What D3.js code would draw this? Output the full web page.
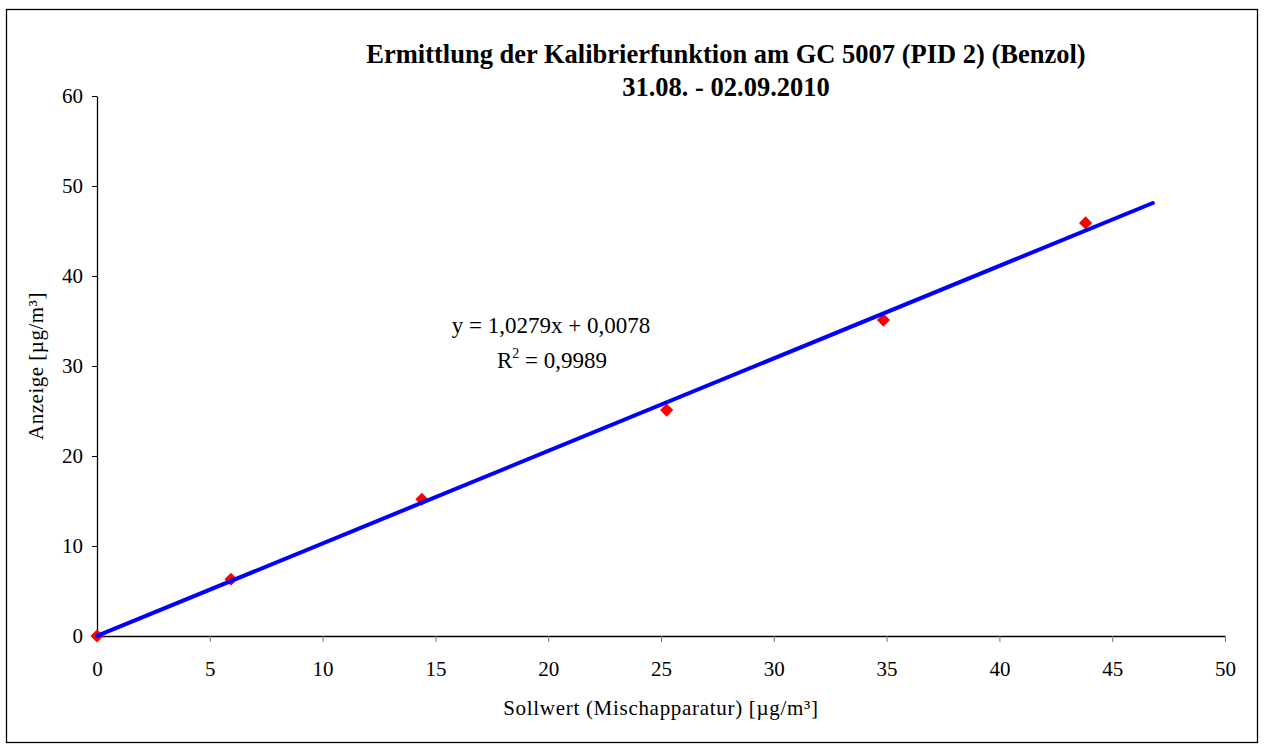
<!DOCTYPE html>
<html>
<head>
<meta charset="utf-8">
<script src="https://cdn.jsdelivr.net/npm/d3@7"></script>
<style>
  body { margin: 0; background: #fff; }
  text { font-family: "Liberation Serif", "Times New Roman", serif; }
</style>
</head>
<body>
<svg id="chart"></svg>
<script>
// measured points (Sollwert vs Anzeige)
var sollwert = [0, 5.94, 14.4, 25.25, 34.86, 43.82];
var anzeige = [0, 6.3, 15.2, 25.1, 35.1, 45.9];
// linear trend line
var slope = 1.0279;
var intercept = 0.0078;
var trendRange = [0, 46.8];
var xTicks = [0, 5, 10, 15, 20, 25, 30, 35, 40, 45, 50];
var yTicks = [0, 10, 20, 30, 40, 50, 60];

var width = 1267, height = 744;

var svg = d3.select("#chart")
  .attr("width", width)
  .attr("height", height);

// outer frame
svg.append("rect")
  .attr("x", 6.5).attr("y", 9.5)
  .attr("width", 1251).attr("height", 733)
  .attr("fill", "none")
  .attr("stroke", "#000")
  .attr("stroke-width", 1.3);

var x = d3.scaleLinear().domain([0, 50]).range([97, 1225]);
var y = d3.scaleLinear().domain([0, 60]).range([636, 96]);

var xAxis = svg.append("g")
  .attr("transform", "translate(0," + y(0) + ")")
  .call(d3.axisBottom(x).tickValues(xTicks).tickSize(6).tickSizeOuter(0).tickPadding(19));
xAxis.selectAll("text").style("font-size", "21px").attr("fill", "#000");
xAxis.select(".domain").attr("stroke", "#000").attr("stroke-width", 1.3);
xAxis.selectAll(".tick line").attr("stroke", "#777");

var yAxis = svg.append("g")
  .attr("transform", "translate(" + x(0) + ",0)")
  .call(d3.axisLeft(y).tickValues(yTicks).tickSize(5).tickSizeOuter(0).tickPadding(9));
yAxis.selectAll("text").style("font-size", "21px").attr("fill", "#000");
yAxis.select(".domain").attr("stroke", "#000").attr("stroke-width", 1.3);
yAxis.selectAll(".tick line").attr("stroke", "#000");

// markers
svg.selectAll(".pt")
  .data(d3.zip(sollwert, anzeige))
  .enter()
  .append("path")
  .attr("class", "pt")
  .attr("d", d3.symbol().type(d3.symbolDiamond2).size(110))
  .attr("transform", function (d) {
    return "translate(" + x(d[0]) + "," + y(d[1]) + ")";
  })
  .attr("fill", "#ff0000");

// trend line
var line = d3.line()
  .x(function (d) { return x(d); })
  .y(function (d) { return y(slope * d + intercept); });

svg.append("path")
  .datum(trendRange)
  .attr("d", line)
  .attr("fill", "none")
  .attr("stroke", "#0000ff")
  .attr("stroke-width", 4)
  .attr("stroke-linecap", "round");

// title
var title = svg.append("text")
  .attr("text-anchor", "middle")
  .style("font-size", "26.5px")
  .style("font-weight", "bold");
title.append("tspan").attr("x", 726).attr("y", 63)
  .text("Ermittlung der Kalibrierfunktion am GC 5007 (PID 2) (Benzol)");
title.append("tspan").attr("x", 726).attr("y", 96)
  .text("31.08. - 02.09.2010");

// equation
var eq = svg.append("text")
  .attr("text-anchor", "middle")
  .style("font-size", "23px");
eq.append("tspan").attr("x", 551).attr("y", 333)
  .text("y = 1,0279x + 0,0078");
var r2 = svg.append("text")
  .attr("text-anchor", "middle")
  .attr("x", 552).attr("y", 368)
  .style("font-size", "23px");
r2.append("tspan").text("R");
r2.append("tspan").attr("dy", -10).style("font-size", "14px").text("2");
r2.append("tspan").attr("dy", 10).text(" = 0,9989");

// axis titles
svg.append("text")
  .attr("text-anchor", "middle")
  .attr("x", 661).attr("y", 715)
  .style("font-size", "21px")
  .style("letter-spacing", "0.7px")
  .text("Sollwert (Mischapparatur) [µg/m³]");

svg.append("text")
  .attr("text-anchor", "middle")
  .attr("transform", "translate(43,366) rotate(-90)")
  .style("font-size", "21px")
  .style("letter-spacing", "0.5px")
  .text("Anzeige [µg/m³]");
</script>
</body>
</html>
